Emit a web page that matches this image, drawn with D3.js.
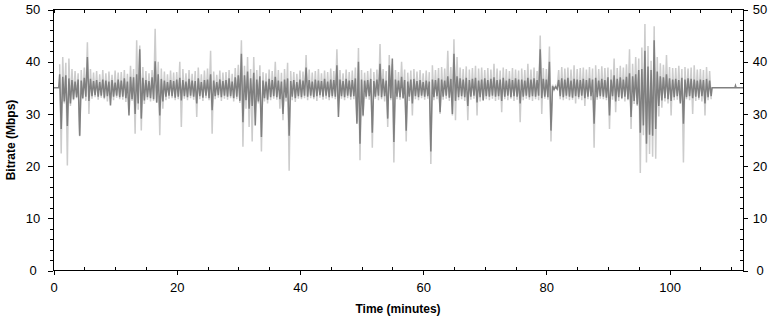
<!DOCTYPE html>
<html>
<head>
<meta charset="utf-8">
<script src="https://cdn.jsdelivr.net/npm/d3@7"></script>
<style>
body{margin:0;background:#fff}
svg{display:block}
text{font-family:"Liberation Sans",Arial,sans-serif;fill:#000}
</style>
</head>
<body>
<div id="chart"></div>
<script>
var width = 778
var height = 320
var xMax = 112
var yMax = 50
var xTicks = [0,20,40,60,80,100]
var yTicks = [0,10,20,30,40,50]
var xTitle = "Time (minutes)"
var yTitle = "Bitrate (Mbps)"

// samples every half minute starting at minute 1: high then low point of each bin
var binStart = 1.0
var binStep = 0.5
var lightHi = [
 39.5,40.9,39.8,40.6,38.6,38.2,37.8,38.4,38.9,43.7,
 38.6,37.9,38.2,37.6,38.4,37.8,38.1,37.5,38.3,37.9,
 38.0,38.4,37.7,39.2,38.6,44.1,43.1,39.0,38.2,37.8,
 38.4,46.3,40.0,38.7,38.1,37.6,38.3,37.9,38.0,40.0,
 38.6,37.8,38.4,37.7,38.2,38.9,37.6,38.3,38.7,42.1,
 38.1,37.5,38.3,37.9,38.0,38.4,37.7,38.8,39.4,44.1,
 39.2,40.9,38.6,40.9,38.4,39.3,38.0,37.8,38.5,38.2,
 40.0,38.4,37.9,38.6,39.8,38.2,38.0,37.7,38.3,38.1,
 41.3,38.5,37.9,38.2,38.6,37.8,38.3,38.0,38.7,38.2,
 42.4,38.4,37.8,38.5,38.0,38.3,38.9,42.6,38.4,37.9,
 38.2,38.7,38.0,38.5,43.4,38.6,38.2,41.3,39.5,38.4,
 38.0,40.0,38.5,37.9,38.3,38.6,38.1,38.4,37.8,38.3,
 38.0,39.3,38.4,38.8,39.0,38.7,42.1,39.0,44.3,40.9,
 38.9,38.6,39.1,38.5,38.8,39.2,38.7,38.9,38.4,38.8,
 38.5,39.6,38.7,38.3,38.9,38.6,38.2,38.8,38.5,38.3,
 38.7,38.4,39.6,38.5,38.9,38.2,45.0,38.8,38.6,42.9,
 35.6,35.4,38.4,39.0,38.7,38.9,38.5,39.3,38.6,38.8,
 38.9,38.5,39.0,38.7,39.3,38.6,39.1,38.8,38.9,38.5,
 40.6,38.8,39.2,38.9,39.5,42.4,39.6,40.9,40.6,42.7,
 47.2,43.0,40.2,46.8,40.9,39.7,39.4,41.3,39.0,38.8,
 38.8,39.2,38.6,39.0,38.7,38.9,39.3,38.5,38.6,38.4,
 39.0,38.2]
var lightLo = [
 22.4,32.0,20.1,31.5,32.6,33.0,25.7,32.8,32.5,30.0,
 32.9,33.2,32.7,33.1,32.8,32.4,33.0,32.6,33.1,32.8,
 32.7,32.3,31.8,32.5,26.2,30.8,26.8,31.9,32.7,32.4,
 32.5,32.1,25.9,31.0,32.6,32.9,33.0,32.6,32.8,27.5,
 32.9,32.6,33.0,32.7,29.4,32.8,32.5,33.0,32.6,26.2,
 32.8,33.1,32.5,32.9,32.7,33.0,32.4,32.8,32.1,23.7,
 31.0,27.5,24.7,31.8,32.0,22.8,32.4,32.0,32.6,32.9,
 32.7,31.0,28.8,32.4,19.1,32.6,32.3,32.9,32.8,33.0,
 32.6,33.0,32.8,32.5,33.1,32.7,32.9,32.6,33.0,32.8,
 32.5,32.9,32.6,33.0,32.7,32.8,28.5,21.1,29.5,32.9,
 32.7,23.5,32.9,32.6,32.8,32.4,27.5,32.6,20.7,32.8,
 32.7,32.9,24.7,32.5,29.7,32.8,32.6,33.0,32.7,32.9,
 20.4,32.6,32.8,30.0,32.7,32.9,32.5,29.7,28.8,32.6,
 32.8,32.5,28.8,32.7,32.9,29.7,32.4,32.6,32.8,32.6,
 32.9,32.5,32.7,30.3,32.8,32.6,32.9,32.5,32.7,28.4,
 32.6,32.9,32.7,32.5,32.8,32.6,30.0,32.9,32.7,24.7,
 34.6,34.8,32.8,32.6,32.9,32.6,32.7,32.0,32.8,32.6,
 31.5,32.8,32.6,23.5,32.7,32.9,32.8,32.6,27.1,32.7,
 30.3,32.5,32.8,32.4,32.6,27.1,31.9,31.5,18.7,25.9,
 20.7,22.3,21.8,21.4,29.5,31.2,32.4,32.0,29.7,32.6,
 32.7,32.4,20.7,32.8,32.6,30.0,32.5,32.7,32.4,29.7,
 32.6,32.8]
var darkHi = [
 37.6,37.1,37.4,36.8,36.5,36.2,36.6,36.4,36.9,40.9,
 36.7,36.3,36.5,36.1,36.6,36.4,36.2,36.5,36.0,36.6,
 36.4,36.8,36.2,37.1,37.0,37.6,42.4,36.9,36.5,36.3,
 37.0,40.1,37.6,36.7,36.4,36.1,36.5,36.3,36.6,36.9,
 36.5,36.2,36.7,36.4,36.3,36.8,36.1,36.5,36.6,37.6,
 36.4,36.1,36.6,36.3,36.5,36.8,36.2,37.0,37.4,41.5,
 37.4,38.1,36.8,37.9,36.6,37.2,36.4,36.2,36.7,36.5,
 37.1,36.4,36.2,36.6,36.8,36.3,36.5,36.1,36.6,36.4,
 38.9,36.5,36.2,36.6,36.4,36.3,36.7,36.2,36.6,36.5,
 39.3,36.6,36.3,36.7,36.4,36.5,36.8,40.0,36.6,36.4,
 36.5,36.7,36.3,36.6,39.6,36.7,36.4,39.3,40.6,36.6,
 36.4,37.1,36.5,36.2,36.6,36.7,36.3,36.5,36.1,36.4,
 36.2,36.6,36.5,36.8,36.6,36.4,37.2,36.7,41.5,37.2,
 36.8,36.6,36.9,36.5,36.7,36.9,36.4,36.6,36.8,36.5,
 36.7,37.0,36.5,36.6,36.9,36.4,36.7,36.5,36.8,36.6,
 36.6,36.4,36.9,36.6,36.8,36.5,42.4,36.7,36.6,40.0,
 35.3,35.2,36.5,36.8,36.6,36.9,36.4,36.7,36.6,36.5,
 36.7,36.5,36.8,36.6,36.9,36.4,36.7,36.5,37.0,36.6,
 37.4,36.7,37.0,36.6,37.1,37.8,37.2,37.6,38.4,38.6,
 42.1,39.1,38.4,44.1,38.1,37.2,37.0,37.6,36.8,36.6,
 36.7,36.5,36.9,36.6,36.8,36.7,36.6,36.4,36.6,36.5,
 36.7,36.4]
var darkLo = [
 27.1,32.4,27.7,32.0,32.8,33.2,25.8,33.0,33.3,32.5,
 33.4,33.6,33.3,33.5,33.1,33.4,31.6,33.3,33.5,33.2,
 33.3,33.0,29.7,32.8,30.0,32.0,29.1,32.6,33.2,33.0,
 32.8,32.2,29.7,32.4,33.3,33.5,33.4,33.1,33.3,32.6,
 33.4,33.2,33.5,33.3,32.0,33.4,33.1,33.5,33.0,30.7,
 33.4,33.6,33.2,33.5,33.3,33.4,33.0,33.3,32.5,28.4,
 32.6,31.0,31.5,27.8,32.4,25.6,33.0,32.7,33.2,33.4,
 33.2,32.8,30.0,33.1,25.8,33.3,33.0,33.4,33.2,33.5,
 33.3,33.5,33.2,33.4,33.6,33.3,33.5,33.2,33.4,33.3,
 29.4,33.4,33.2,33.5,33.3,33.4,28.1,24.3,29.7,33.3,
 33.4,26.4,33.3,33.5,33.2,33.4,29.1,33.0,24.6,33.3,
 33.2,33.0,26.8,33.3,32.0,33.4,33.2,33.5,33.3,33.4,
 22.8,33.2,33.4,30.3,33.3,33.5,33.1,30.0,32.5,33.2,
 33.4,33.2,31.5,33.3,33.5,32.2,33.2,32.6,33.4,33.3,
 33.5,33.3,33.4,32.5,33.3,33.5,33.2,33.4,33.3,32.0,
 33.3,33.5,33.2,33.4,33.3,33.5,33.0,33.3,33.2,26.8,
 34.7,34.8,33.4,33.2,33.5,33.3,33.1,33.4,33.2,33.5,
 33.0,33.3,33.4,28.1,33.2,33.4,33.3,33.1,29.7,33.4,
 32.4,33.2,33.0,33.3,32.8,29.4,32.5,31.8,26.4,27.8,
 24.3,26.0,25.8,27.1,31.5,32.6,33.0,32.8,32.5,33.2,
 33.4,32.0,28.1,33.2,33.4,33.0,33.3,33.1,33.4,32.0,
 33.2,33.4]
// flat parts before the first and after the last sample
var leadTime = [0,0.85]
var leadVal = [35,35]
var tailTime = [106.9,110.6,110.7,110.8,112]
var tailVal = [35,35,35.4,35,35]

var svg = d3.select("#chart").append("svg")
	.attr("width",width)
	.attr("height",height)

var x = d3.scaleLinear().domain([0,xMax]).range([53.5,743.5])
var y = d3.scaleLinear().domain([0,yMax]).range([270.5,9.5])

function zigzag(hi,lo){
	var pts = []
	for(var i=0;i<hi.length;i++){
		var t = binStart+i*binStep
		pts.push([t,hi[i]])
		pts.push([t+binStep/2,lo[i]])
	}
	return pts
}
var line = d3.line()
	.x(function(d){return x(d[0])})
	.y(function(d){return y(d[1])})

var lightPts = zigzag(lightHi,lightLo)
var darkPts = []
for(var i=0;i<leadTime.length;i++){ darkPts.push([leadTime[i],leadVal[i]]) }
darkPts = darkPts.concat(zigzag(darkHi,darkLo))
for(var j=0;j<tailTime.length;j++){ darkPts.push([tailTime[j],tailVal[j]]) }

svg.append("path")
	.attr("d",line(lightPts))
	.attr("fill","none")
	.attr("stroke","#cccccc")
	.attr("stroke-width",1.5)
svg.append("path")
	.attr("d",line(darkPts))
	.attr("fill","none")
	.attr("stroke","#808080")
	.attr("stroke-width",1.5)

// axes
var minorX = d3.range(0,xMax+1,5).filter(function(v){return v%20!=0})
var minorY = d3.range(0,yMax+1,2).filter(function(v){return v%10!=0})

function clean(g){
	g.select(".domain").remove()
	g.selectAll("line").attr("stroke","#000").attr("shape-rendering","crispEdges")
}
svg.append("g").attr("transform","translate(0,270)")
	.call(d3.axisBottom(x).tickValues(xTicks).tickSize(5).tickPadding(8).tickFormat(d3.format("d")))
	.call(clean)
	.selectAll("text").style("font-size","13px")
svg.append("g").attr("transform","translate(0,270)")
	.call(d3.axisTop(x).tickValues(minorX).tickSize(3).tickFormat(""))
	.call(clean)
svg.append("g").attr("transform","translate(0,9)")
	.call(d3.axisBottom(x).tickValues(xTicks.concat(minorX)).tickSize(4).tickFormat(""))
	.call(clean)

svg.append("g").attr("transform","translate(53,0)")
	.call(d3.axisLeft(y).tickValues(yTicks).tickSize(5).tickFormat(d3.format("d")))
	.call(clean)
	.selectAll("text").attr("x",-20).style("text-anchor","middle").style("font-size","13px")
svg.append("g").attr("transform","translate(53,0)")
	.call(d3.axisLeft(y).tickValues(minorY).tickSize(3).tickFormat(""))
	.call(clean)

svg.append("g").attr("transform","translate(743,0)")
	.call(d3.axisRight(y).tickValues(yTicks).tickSize(5).tickFormat(d3.format("d")))
	.call(clean)
	.selectAll("text").attr("x",17).style("text-anchor","middle").style("font-size","13px")
svg.append("g").attr("transform","translate(743,0)")
	.call(d3.axisLeft(y).tickValues(minorY).tickSize(3).tickFormat(""))
	.call(clean)

svg.append("rect")
	.attr("x",53.5).attr("y",9.5)
	.attr("width",690).attr("height",261)
	.attr("fill","none")
	.attr("stroke","#000")
	.attr("shape-rendering","crispEdges")

svg.append("text")
	.attr("x",398).attr("y",313)
	.attr("text-anchor","middle")
	.style("font-size","12px").style("font-weight","bold")
	.text(xTitle)
svg.append("text")
	.attr("transform","translate(15,140) rotate(-90)")
	.attr("text-anchor","middle")
	.style("font-size","12px").style("font-weight","bold")
	.text(yTitle)
</script>
</body>
</html>
